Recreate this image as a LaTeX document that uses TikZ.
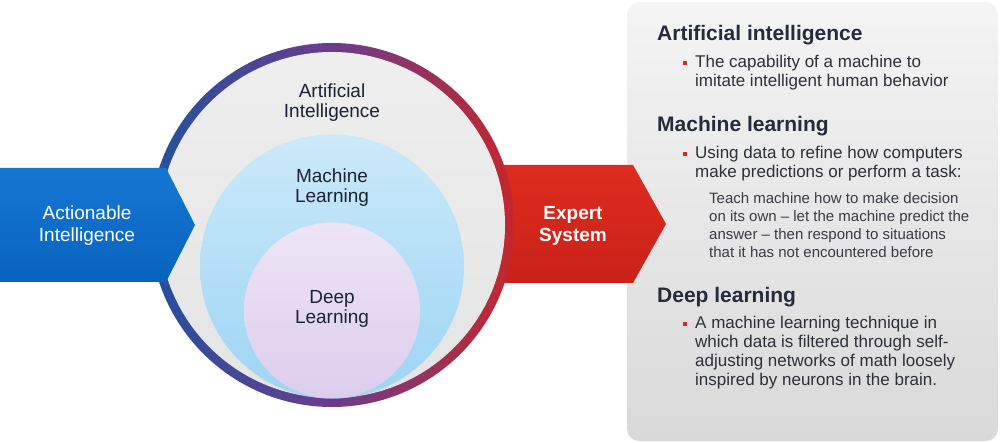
\documentclass[tikz,border=0pt]{standalone}
\usepackage{fontspec}
\setmainfont{Liberation Sans}
\definecolor{ringblue}{HTML}{24519D}
\definecolor{ringpurple}{HTML}{6A3D8C}
\definecolor{ringred}{HTML}{C4262C}
\definecolor{aigray}{HTML}{EEEEEE}
\definecolor{aigraybot}{HTML}{E4E4E4}
\definecolor{mltop}{HTML}{CBE9F9}
\definecolor{mlbot}{HTML}{9DD5F4}
\definecolor{dltop}{HTML}{EDE5F5}
\definecolor{dlbot}{HTML}{DCCDED}
\definecolor{bluetop}{HTML}{1577D2}
\definecolor{bluebot}{HTML}{0863BE}
\definecolor{redtop}{HTML}{DE2B1E}
\definecolor{redbot}{HTML}{C9221A}
\definecolor{paneltop}{HTML}{F4F4F4}
\definecolor{panelbot}{HTML}{D9D9D9}
\definecolor{headcol}{HTML}{262B3B}
\definecolor{bodycol}{HTML}{2E3038}
\definecolor{subcol}{HTML}{3A3C44}
\definecolor{bulletred}{HTML}{D22A24}
\definecolor{circtext}{HTML}{1C2233}
\tikzset{
  circlabel/.style={align=center, inner sep=0, text=circtext, font=\fontsize{19}{20}\selectfont},
  arrowlabel/.style={align=center, inner sep=0, text=white, font=\fontsize{19}{22}\selectfont},
  heading/.style={anchor=base west, inner sep=0, text=headcol, font=\bfseries\fontsize{21}{24}\selectfont},
  bodytext/.style={anchor=base west, inner sep=0, align=left, text=bodycol, font=\fontsize{17}{19}\selectfont},
  subtext/.style={anchor=base west, inner sep=0, align=left, text=subcol, font=\fontsize{15}{18}\selectfont},
  bulletmark/.style={fill=bulletred, minimum size=4pt, inner sep=0, draw=none},
  disc/.style={circle, inner sep=0, draw=none},
}
\begin{document}
\begin{tikzpicture}[x=1pt,y=-1pt]
\useasboundingbox (0,0) rectangle (1000,443);
% right panel
\shade[top color=paneltop, bottom color=panelbot, rounded corners=12pt] (627,2) rectangle (998,441);
% red arrow (behind circle)
\shade[top color=redtop, bottom color=redbot] (500,165) -- (633,165) -- (666,224) -- (633,283) -- (500,283) -- cycle;
% circles
\node[disc, minimum size=364pt, left color=ringblue, right color=ringred, middle color=ringpurple] (ring) at (332,225) {};
\node[disc, minimum size=346pt, top color=aigray, bottom color=aigraybot] (ai) at (332,225) {};
\node[disc, minimum size=264pt, top color=mltop, bottom color=mlbot] (ml) at (332,266.5) {};
\node[disc, minimum size=176pt, top color=dltop, bottom color=dlbot] (dl) at (332,310.5) {};
% blue arrow (over circle)
\shade[top color=bluetop, bottom color=bluebot] (0,168) -- (166,168) -- (195,225) -- (166,282) -- (0,282) -- cycle;
% circle labels
\node[circlabel] (ailabel) at (332,103) {Artificial\\Intelligence};
\node[circlabel] (mllabel) at (332,188) {Machine\\Learning};
\node[circlabel] (dllabel) at (332,309) {Deep\\Learning};
% arrow labels
\node[arrowlabel] (actlabel) at (87,226) {Actionable\\Intelligence};
\node[arrowlabel, font=\bfseries\fontsize{19}{22}\selectfont] (explabel) at (573,226) {Expert\\System};
% panel text (base anchor = baseline of last line)
\node[heading] (h1) at (657,41) {Artificial intelligence};
\node[bulletmark] (b1) at (685,63) {};
\node[bodytext] (t1) at (695,87) {The capability of a machine to\\imitate intelligent human behavior};
\node[heading] (h2) at (657,132) {Machine learning};
\node[bulletmark] (b2) at (685,154) {};
\node[bodytext] (t2) at (695,178) {Using data to refine how computers\\make predictions or perform a task:};
\node[subtext] (s2) at (709,258) {Teach machine how to make decision\\on its own -- let the machine predict the\\answer -- then respond to situations\\that it has not encountered before};
\node[heading] (h3) at (657,302) {Deep learning};
\node[bulletmark] (b3) at (685,324) {};
\node[bodytext] (t3) at (695,385) {A machine learning technique in\\which data is filtered through self-\\adjusting networks of math loosely\\inspired by neurons in the brain.};
\end{tikzpicture}
\end{document}
